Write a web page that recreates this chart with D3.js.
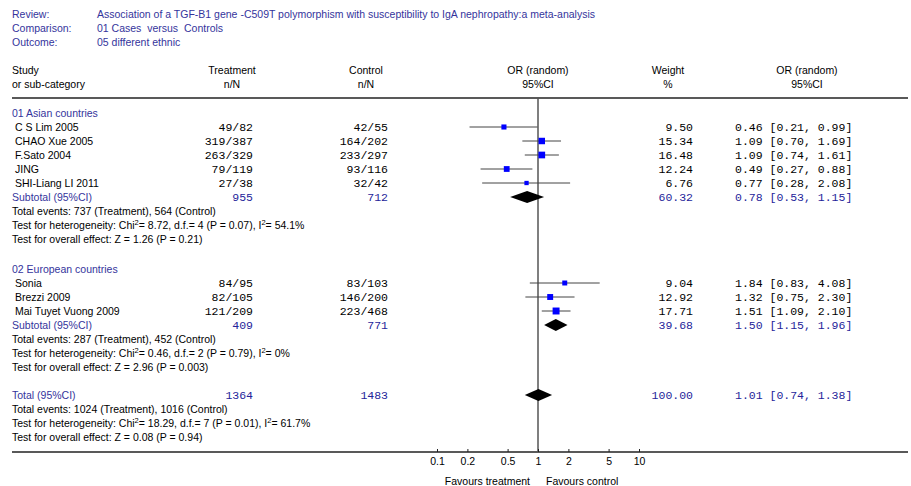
<!DOCTYPE html>
<html><head><meta charset="utf-8">
<script src="https://cdn.jsdelivr.net/npm/d3@7"></script>
<style>body{margin:0;background:#fff} text{white-space:pre}</style>
</head><body>
<svg id="c" width="911" height="486"></svg>
<script>
// ---- data ----
const headerLabels = ["Review:", "Comparison:", "Outcome:"];
const headerValues = ["Association of a TGF-B1 gene -C509T polymorphism with susceptibility to IgA nephropathy:a meta-analysis",
  "01 Cases  versus  Controls", "05 different ethnic"];

const group1Name = "01 Asian countries";
const group1Studies = ["C S Lim 2005", "CHAO Xue 2005", "F.Sato 2004", "JING", "SHI-Liang LI 2011"];
const group1Treat = ["49/82", "319/387", "263/329", "79/119", "27/38"];
const group1Ctrl = ["42/55", "164/202", "233/297", "93/116", "32/42"];
const group1Weight = [9.50, 15.34, 16.48, 12.24, 6.76];
const group1OR = [0.46, 1.09, 1.09, 0.49, 0.77];
const group1Lo = [0.21, 0.70, 0.74, 0.27, 0.28];
const group1Hi = [0.99, 1.69, 1.61, 0.88, 2.08];
const group1Sub = {treat: "955", ctrl: "712", weight: 60.32, or: 0.78, lo: 0.53, hi: 1.15};
const group1Notes = ["Total events: 737 (Treatment), 564 (Control)",
  ["Test for heterogeneity: Chi", "2", "= 8.72, d.f.= 4 (P = 0.07), I", "2", "= 54.1%"],
  "Test for overall effect: Z = 1.26 (P = 0.21)"];

const group2Name = "02 European countries";
const group2Studies = ["Sonia", "Brezzi 2009", "Mai Tuyet Vuong 2009"];
const group2Treat = ["84/95", "82/105", "121/209"];
const group2Ctrl = ["83/103", "146/200", "223/468"];
const group2Weight = [9.04, 12.92, 17.71];
const group2OR = [1.84, 1.32, 1.51];
const group2Lo = [0.83, 0.75, 1.09];
const group2Hi = [4.08, 2.30, 2.10];
const group2Sub = {treat: "409", ctrl: "771", weight: 39.68, or: 1.50, lo: 1.15, hi: 1.96};
const group2Notes = ["Total events: 287 (Treatment), 452 (Control)",
  ["Test for heterogeneity: Chi", "2", "= 0.46, d.f.= 2 (P = 0.79), I", "2", "= 0%"],
  "Test for overall effect: Z = 2.96 (P = 0.003)"];

const totalRow = {treat: "1364", ctrl: "1483", weight: 100.00, or: 1.01, lo: 0.74, hi: 1.38};
const totalNotes = ["Total events: 1024 (Treatment), 1016 (Control)",
  ["Test for heterogeneity: Chi", "2", "= 18.29, d.f.= 7 (P = 0.01), I", "2", "= 61.7%"],
  "Test for overall effect: Z = 0.08 (P = 0.94)"];

const tickValues = [0.1, 0.2, 0.5, 1, 2, 5, 10];
const tickLabels = ["0.1", "0.2", "0.5", "1", "2", "5", "10"];

// ---- drawing ----
const svg = d3.select("#c");
const SANS = "'Liberation Sans', Arial, sans-serif";
const MONO = "'Liberation Mono', 'Courier New', monospace";
const NAVY = "#34349c";
const BLUE2 = "#24249a";
const x = d3.scaleLog().domain([0.1, 10]).range([437, 639]);
const f2 = d3.format(".2f");

function txt(xp, yc, s, opts = {}) {
  return svg.append("text").attr("x", xp).attr("y", yc + 4)
    .attr("font-family", opts.mono ? MONO : SANS)
    .attr("font-size", opts.size || (opts.mono ? 11.5 : 10.5))
    .attr("fill", opts.color || "#000")
    .attr("text-anchor", opts.anchor || "start")
    .text(s);
}
function noteText(xp, yc, parts) {
  if (typeof parts === "string") return txt(xp, yc, parts);
  const t = svg.append("text").attr("x", xp).attr("y", yc + 4)
    .attr("font-family", SANS).attr("font-size", 10.5).attr("fill", "#000");
  parts.forEach((p, i) => {
    if (i % 2 === 1) t.append("tspan").attr("dy", -4).attr("font-size", 7.5).text(p);
    else t.append("tspan").attr("dy", i === 0 ? 0 : 4).text(p);
  });
}

// header
headerLabels.forEach((l, i) => {
  txt(12, 14 + i * 14, l, {color: NAVY});
  txt(97, 14 + i * 14, headerValues[i], {color: NAVY});
});
txt(12, 70, "Study"); txt(12, 84, "or sub-category");
txt(232, 70, "Treatment", {anchor: "middle"}); txt(232, 84, "n/N", {anchor: "middle"});
txt(366, 70, "Control", {anchor: "middle"}); txt(366, 84, "n/N", {anchor: "middle"});
txt(538, 70, "OR (random)", {anchor: "middle"}); txt(538, 84, "95%CI", {anchor: "middle"});
txt(668, 70, "Weight", {anchor: "middle"}); txt(668, 84, "%", {anchor: "middle"});
txt(807, 70, "OR (random)", {anchor: "middle"}); txt(807, 84, "95%CI", {anchor: "middle"});

const topY = 98, axisY = 452;
svg.append("line").attr("x1", 12).attr("x2", 908).attr("y1", topY).attr("y2", topY)
  .attr("stroke", "#222").attr("stroke-width", 1.5);
svg.append("line").attr("x1", 12).attr("x2", 908).attr("y1", axisY).attr("y2", axisY)
  .attr("stroke", "#222").attr("stroke-width", 1.5);
svg.append("line").attr("x1", x(1)).attr("x2", x(1)).attr("y1", topY).attr("y2", axisY)
  .attr("stroke", "#555").attr("stroke-width", 1.5);

function ciText(or, lo, hi) { return `${f2(or)} [${f2(lo)}, ${f2(hi)}]`; }

function diamond(yc, d) {
  const h = 6;
  svg.append("path").attr("d",
    `M${x(d.lo)},${yc} L${x(d.or)},${yc - h} L${x(d.hi)},${yc} L${x(d.or)},${yc + h} Z`)
    .attr("fill", "#000");
}

function drawGroup(y0, name, studies, tr, ct, w, or, lo, hi, sub, notes) {
  txt(12, y0, name, {color: NAVY});
  studies.forEach((s, i) => {
    const yc = y0 + 14 * (i + 1);
    txt(15, yc, s);
    txt(253, yc, tr[i], {mono: true, anchor: "end"});
    txt(388, yc, ct[i], {mono: true, anchor: "end"});
    svg.append("line").attr("x1", x(lo[i])).attr("x2", x(hi[i])).attr("y1", yc).attr("y2", yc)
      .attr("stroke", "#444").attr("stroke-width", 1);
    const side = 1.65 * Math.sqrt(w[i]);
    svg.append("rect").attr("x", x(or[i]) - side / 2).attr("y", yc - side / 2)
      .attr("width", side).attr("height", side).attr("fill", "#0000ff");
    txt(693, yc, f2(w[i]), {mono: true, anchor: "end"});
    txt(735, yc, ciText(or[i], lo[i], hi[i]), {mono: true});
  });
  const ys = y0 + 14 * (studies.length + 1);
  txt(12, ys, "Subtotal (95%CI)", {color: NAVY});
  txt(253, ys, sub.treat, {mono: true, anchor: "end", color: BLUE2});
  txt(388, ys, sub.ctrl, {mono: true, anchor: "end", color: BLUE2});
  diamond(ys, sub);
  txt(693, ys, f2(sub.weight), {mono: true, anchor: "end", color: BLUE2});
  txt(735, ys, ciText(sub.or, sub.lo, sub.hi), {mono: true, color: BLUE2});
  notes.forEach((n, i) => noteText(12, ys + 14 * (i + 1), n));
}

drawGroup(113, group1Name, group1Studies, group1Treat, group1Ctrl, group1Weight, group1OR, group1Lo, group1Hi, group1Sub, group1Notes);
drawGroup(269, group2Name, group2Studies, group2Treat, group2Ctrl, group2Weight, group2OR, group2Lo, group2Hi, group2Sub, group2Notes);

const yt = 395;
txt(12, yt, "Total (95%CI)", {color: NAVY});
txt(253, yt, totalRow.treat, {mono: true, anchor: "end", color: BLUE2});
txt(388, yt, totalRow.ctrl, {mono: true, anchor: "end", color: BLUE2});
diamond(yt, totalRow);
txt(693, yt, f2(totalRow.weight), {mono: true, anchor: "end", color: BLUE2});
txt(735, yt, ciText(totalRow.or, totalRow.lo, totalRow.hi), {mono: true, color: BLUE2});
totalNotes.forEach((n, i) => noteText(12, yt + 14 * (i + 1), n));

// axis
const axis = d3.axisBottom(x).tickValues(tickValues)
  .tickFormat((d, i) => tickLabels[i]).tickSizeInner(-3).tickSizeOuter(0).tickPadding(6);
const ag = svg.append("g").attr("transform", `translate(0,${axisY})`).call(axis);
ag.select(".domain").remove();
ag.selectAll(".tick line").attr("stroke", "#222");
ag.selectAll(".tick text").attr("font-family", SANS).attr("font-size", 10.5).attr("fill", "#000");

txt(x(1) - 8, 481, "Favours treatment", {anchor: "end"});
txt(x(1) + 8, 481, "Favours control");
</script>
</body></html>
